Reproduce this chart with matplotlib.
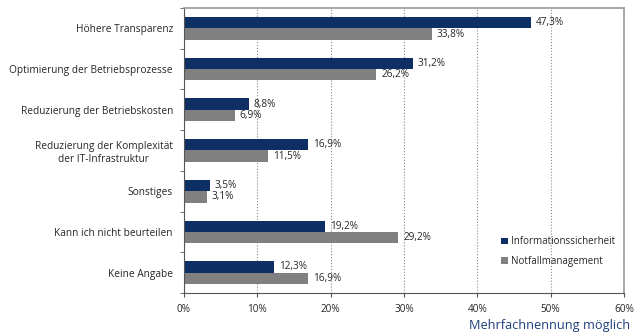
import matplotlib.pyplot as plt
import numpy as np

# Survey answers (multiple answers possible)
categories = [
    'Höhere Transparenz',
    'Optimierung der Betriebsprozesse',
    'Reduzierung der Betriebskosten',
    'Reduzierung der Komplexität\nder IT-Infrastruktur',
    'Sonstiges',
    'Kann ich nicht beurteilen',
    'Keine Angabe',
]
infosec = [47.3, 31.2, 8.8, 16.9, 3.5, 19.2, 12.3]
notfall = [33.8, 26.2, 6.9, 11.5, 3.1, 29.2, 16.9]
series_names = ['Informationssicherheit', 'Notfallmanagement']
x_ticks = [0, 10, 20, 30, 40, 50, 60]

blue = '#0d2f63'
gray = '#808080'
txt = '#262626'

plt.rcParams['font.family'] = ['Open Sans', 'DejaVu Sans']

fig = plt.figure(figsize=(6.36, 3.35), dpi=100)
ax = fig.add_axes([0.2893, 0.1254, 0.6918, 0.8507])

y = np.arange(len(categories))
h = 0.28
b1 = ax.barh(y - h / 2, infosec, height=h, color=blue, label=series_names[0])
b2 = ax.barh(y + h / 2, notfall, height=h, color=gray, label=series_names[1])

def fmt(v):
    return f'{v:.1f}%'.replace('.', ',')

for bars, vals in ((b1, infosec), (b2, notfall)):
    for bar, v in zip(bars, vals):
        ax.text(v + 0.7, bar.get_y() + bar.get_height() / 2, fmt(v),
                va='center', ha='left', fontsize=7.2, color=txt)

ax.set_xlim(0, 60)
ax.set_ylim(len(categories) - 0.5, -0.5)
ax.set_xticks(x_ticks)
ax.set_xticklabels([f'{t}%' for t in x_ticks], fontsize=7.2, color=txt)
ax.set_yticks(y)
ax.set_yticklabels(categories, fontsize=7.3, color=txt, multialignment='center')
ax.tick_params(axis='y', length=0, pad=8)
ax.set_yticks(np.arange(len(categories) + 1) - 0.5, minor=True)
ax.tick_params(axis='y', which='minor', length=3, color='#555555')
ax.tick_params(axis='x', length=3, color='#555555', pad=5)

ax.grid(axis='x', linestyle=':', color='#888888', linewidth=0.8)
ax.set_axisbelow(True)
for side in ('left', 'bottom'):
    ax.spines[side].set_color('#555555')
for side in ('top', 'right'):
    ax.spines[side].set_color('#999999')
    ax.spines[side].set_linewidth(1.2)

leg = ax.legend(loc='lower right', bbox_to_anchor=(1.0, 0.06), frameon=False,
                fontsize=7, handlelength=0.7, handleheight=0.7,
                handletextpad=0.3, labelspacing=0.9)
for t in leg.get_texts():
    t.set_color(txt)

fig.text(0.99, 0.01, 'Mehrfachnennung möglich', ha='right', va='bottom',
         fontsize=9.2, color='#1f3f7a')

fig.savefig('out.png', dpi=100)
